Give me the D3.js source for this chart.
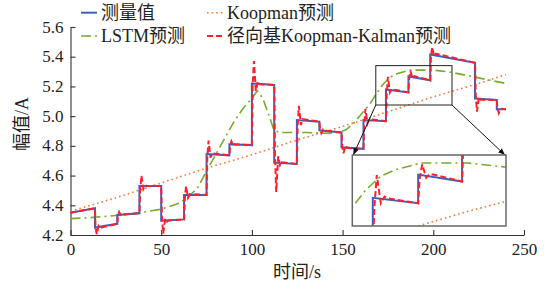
<!DOCTYPE html>
<html>
<head>
<meta charset="utf-8">
<script src="https://cdn.jsdelivr.net/npm/d3@7"></script>
<style>
  body { margin: 0; background: #fff; }
  svg text { font-family: "Liberation Serif", "DejaVu Serif", serif, "Noto Sans CJK SC"; fill: #222; }
</style>
</head>
<body>
<div id="chart"></div>
<script>
// measured value: piecewise segments between step times
var stepTimes = [0, 13.5, 25.8, 38, 50, 62.6, 75, 87.6, 100, 112.3, 124.8, 137.2, 149.4, 161.5, 173.9, 186.3, 198.3, 223, 235, 240];
var segStart = [4.35, 4.25, 4.335, 4.53, 4.296, 4.47, 4.745, 4.81, 5.22, 4.687, 4.974, 4.905, 4.79, 4.974, 5.18, 5.267, 5.415, 5.119, 5.047];
var segEnd   = [4.38, 4.275, 4.346, 4.53, 4.305, 4.47, 4.736, 4.805, 5.21, 4.678, 4.963, 4.89, 4.78, 4.966, 5.16, 5.241, 5.359, 5.109, 5.047];

// Koopman prediction
var koopmanT = [0, 25, 50, 75, 100, 125, 150, 175, 200, 225, 240];
var koopmanV = [4.36, 4.45, 4.55, 4.65, 4.74, 4.84, 4.93, 5.03, 5.13, 5.22, 5.28];

// LSTM prediction
var lstmT = [0, 10, 20, 30, 40, 50, 55, 60, 65, 70, 75, 80, 85, 90, 95, 100, 103, 106, 109, 112, 115, 120, 130, 140, 148, 152, 156, 160, 165, 168, 172, 176, 180, 187, 200, 210, 220, 230, 240];
var lstmV = [4.31, 4.316, 4.326, 4.337, 4.353, 4.374, 4.394, 4.415, 4.456, 4.517, 4.63, 4.74, 4.85, 4.96, 5.05, 5.12, 5.17, 5.12, 5.02, 4.91, 4.89, 4.89, 4.89, 4.885, 4.89, 4.91, 4.95, 5.01, 5.08, 5.14, 5.21, 5.26, 5.285, 5.31, 5.31, 5.295, 5.27, 5.245, 5.22];

// RBF Koopman-Kalman prediction [t, value]
var rbfPoints = [
  [0, 4.35],
  [13.5, 4.38], [13.8, 4.25], [14.5, 4.205], [15.5, 4.26], [16.5, 4.245], [17.5, 4.252],
  [25.8, 4.275], [26.1, 4.33], [26.8, 4.355], [27.8, 4.33], [28.8, 4.338],
  [38, 4.346], [38.4, 4.5], [39.1, 4.6], [40.2, 4.51], [41.2, 4.535], [42, 4.53],
  [50, 4.53], [50.4, 4.32], [51.1, 4.21], [52.2, 4.31], [53.2, 4.29], [54, 4.297],
  [62.6, 4.305], [63, 4.44], [63.7, 4.53], [64.8, 4.45], [65.8, 4.475],
  [75, 4.47], [75.4, 4.72], [76.1, 4.835], [77.2, 4.72], [78.2, 4.75],
  [87.6, 4.736], [88, 4.8], [88.7, 4.83], [89.7, 4.8], [90.7, 4.81],
  [100, 4.805], [100.4, 5.2], [101.1, 5.37], [102.2, 5.17], [103.3, 5.235], [104.3, 5.215],
  [112.3, 5.21], [112.7, 4.75], [113.4, 4.49], [114.5, 4.73], [115.5, 4.67], [116.5, 4.69],
  [124.8, 4.678], [125.2, 4.93], [125.9, 5.07], [127, 4.94], [128, 4.98],
  [137.2, 4.963], [137.6, 4.91], [138.3, 4.885], [139.3, 4.91], [140.3, 4.903],
  [149.4, 4.89], [149.8, 4.8], [150.5, 4.75], [151.6, 4.8], [152.6, 4.785],
  [161.5, 4.78], [161.9, 4.94], [162.6, 5.05], [163.7, 4.95], [164.7, 4.98],
  [173.9, 4.966], [174.3, 5.14], [175, 5.265], [176.1, 5.16], [177.1, 5.185], [178, 5.178],
  [186.3, 5.16], [186.7, 5.25], [187.4, 5.305], [188.5, 5.255], [189.5, 5.27],
  [198.3, 5.241], [198.7, 5.4], [199.4, 5.465], [200.5, 5.4], [201.5, 5.42],
  [223, 5.359], [223.4, 5.14], [224.1, 5.03], [225.2, 5.13], [226.2, 5.11],
  [235, 5.109], [235.4, 5.05], [236.1, 5.02], [237.2, 5.05], [240, 5.047]
];

var xTicks = [0, 50, 100, 150, 200, 250];
var yTicks = [4.2, 4.4, 4.6, 4.8, 5.0, 5.2, 5.4, 5.6];
var zoomT = [168.3, 210.3];
var zoomV = [5.075, 5.34];

var legendLabels = ["测量值", "Koopman预测", "LSTM预测", "径向基Koopman-Kalman预测"];

var W = 551, H = 290;
var FONT = "'Liberation Serif', 'DejaVu Serif', serif, 'Noto Sans CJK SC'";

var svg = d3.select("#chart").append("svg")
    .attr("width", W)
    .attr("height", H)
    .attr("font-family", FONT);

var defs = svg.append("defs");
defs.append("marker")
    .attr("id", "arrow")
    .attr("viewBox", "0 0 10 10")
    .attr("refX", 10).attr("refY", 5)
    .attr("markerWidth", 7).attr("markerHeight", 7)
    .attr("orient", "auto")
    .append("path")
    .attr("d", "M0,1 L10,5 L0,9 Z")
    .attr("fill", "#111");

var x = d3.scaleLinear().domain([0, 250]).range([70.5, 524]);
var y = d3.scaleLinear().domain([4.2, 5.6]).range([235, 27]);

// build series
var measData = [];
for (var i = 0; i < segStart.length; i++) {
    measData.push({ t: stepTimes[i], v: segStart[i] });
    measData.push({ t: stepTimes[i + 1], v: segEnd[i] });
}
var koopData = koopmanT.map(function(t, i) { return { t: t, v: koopmanV[i] }; });
var lstmData = lstmT.map(function(t, i) { return { t: t, v: lstmV[i] }; });
var rbfData = rbfPoints.map(function(p) { return { t: p[0], v: p[1] }; });

var styles = [
    { data: koopData, color: "#f47a3c", width: 1.6, dash: "1.6,3" },
    { data: lstmData, color: "#77ac30", width: 1.6, dash: "10,4,2,4" },
    { data: measData, color: "#3f5fc0", width: 2, dash: null },
    { data: rbfData, color: "#ff1f2a", width: 2, dash: "6,3" }
];

function drawSeries(g, sx, sy) {
    styles.forEach(function(s) {
        g.append("path")
            .datum(s.data)
            .attr("fill", "none")
            .attr("stroke", s.color)
            .attr("stroke-width", s.width)
            .attr("stroke-dasharray", s.dash)
            .attr("d", d3.line()
                .x(function(d) { return sx(d.t); })
                .y(function(d) { return sy(d.v); }));
    });
}

// axes
svg.append("g")
    .attr("transform", "translate(0,235)")
    .call(d3.axisBottom(x).tickValues(xTicks).tickSizeInner(-5).tickSizeOuter(0).tickPadding(8))
    .attr("font-family", FONT)
    .attr("font-size", 17)
    .call(function(g) {
        g.selectAll("line, path").attr("stroke", "#333").attr("stroke-width", 1.1);
    });

svg.append("g")
    .attr("transform", "translate(70.5,0)")
    .call(d3.axisLeft(y).tickValues(yTicks).tickFormat(d3.format(".1f")).tickSizeInner(-5).tickSizeOuter(0).tickPadding(7))
    .attr("font-family", FONT)
    .attr("font-size", 17)
    .call(function(g) {
        g.selectAll("text").attr("dy", "0.3em");
        g.selectAll("line, path").attr("stroke", "#333").attr("stroke-width", 1.1);
    });

svg.selectAll(".domain").attr("fill", "none");

// main series
drawSeries(svg.append("g"), x, y);

// zoom source box and arrows
var inset = { x0: 352.3, x1: 506, y0: 155, y1: 226 };

svg.append("rect")
    .attr("x", x(zoomT[0])).attr("y", y(zoomV[1]))
    .attr("width", x(zoomT[1]) - x(zoomT[0]))
    .attr("height", y(zoomV[0]) - y(zoomV[1]))
    .attr("fill", "none").attr("stroke", "#222").attr("stroke-width", 1);

svg.append("line")
    .attr("x1", x(zoomT[0])).attr("y1", y(zoomV[0]))
    .attr("x2", inset.x0 + 1).attr("y2", inset.y0)
    .attr("stroke", "#111").attr("stroke-width", 1)
    .attr("marker-end", "url(#arrow)");
svg.append("line")
    .attr("x1", x(zoomT[1])).attr("y1", y(zoomV[0]))
    .attr("x2", inset.x1 - 1).attr("y2", inset.y0)
    .attr("stroke", "#111").attr("stroke-width", 1)
    .attr("marker-end", "url(#arrow)");

// inset
var xi = d3.scaleLinear().domain(zoomT).range([inset.x0, inset.x1]);
var yi = d3.scaleLinear().domain(zoomV).range([inset.y1, inset.y0]);

defs.append("clipPath").attr("id", "insetClip")
    .append("rect")
    .attr("x", inset.x0).attr("y", inset.y0)
    .attr("width", inset.x1 - inset.x0).attr("height", inset.y1 - inset.y0);

svg.append("rect")
    .attr("x", inset.x0).attr("y", inset.y0)
    .attr("width", inset.x1 - inset.x0).attr("height", inset.y1 - inset.y0)
    .attr("fill", "#fff");

drawSeries(svg.append("g").attr("clip-path", "url(#insetClip)"), xi, yi);

svg.append("rect")
    .attr("x", inset.x0).attr("y", inset.y0)
    .attr("width", inset.x1 - inset.x0).attr("height", inset.y1 - inset.y0)
    .attr("fill", "none").attr("stroke", "#666").attr("stroke-width", 1.5);

// axis titles
svg.append("text")
    .attr("x", 297).attr("y", 278)
    .attr("text-anchor", "middle")
    .attr("font-size", 18)
    .text("时间/s");

svg.append("text")
    .attr("transform", "translate(28,124) rotate(-90)")
    .attr("text-anchor", "middle")
    .attr("font-size", 18)
    .text("幅值/A");

// legend: order measured, koopman, lstm, rbf
var legendPos = [
    { x: 81, y: 12.7, s: styles[2] },
    { x: 207, y: 12.7, s: styles[0] },
    { x: 81, y: 36, s: styles[1] },
    { x: 207, y: 36, s: styles[3] }
];
var legend = svg.append("g");
legendPos.forEach(function(p, i) {
    legend.append("line")
        .attr("x1", p.x).attr("x2", p.x + 16)
        .attr("y1", p.y).attr("y2", p.y)
        .attr("stroke", p.s.color)
        .attr("stroke-width", p.s.width)
        .attr("stroke-dasharray", p.s.dash);
    legend.append("text")
        .attr("x", p.x + 20).attr("y", p.y)
        .attr("dy", "0.36em")
        .attr("font-size", 18)
        .text(legendLabels[i]);
});
</script>
</body>
</html>
